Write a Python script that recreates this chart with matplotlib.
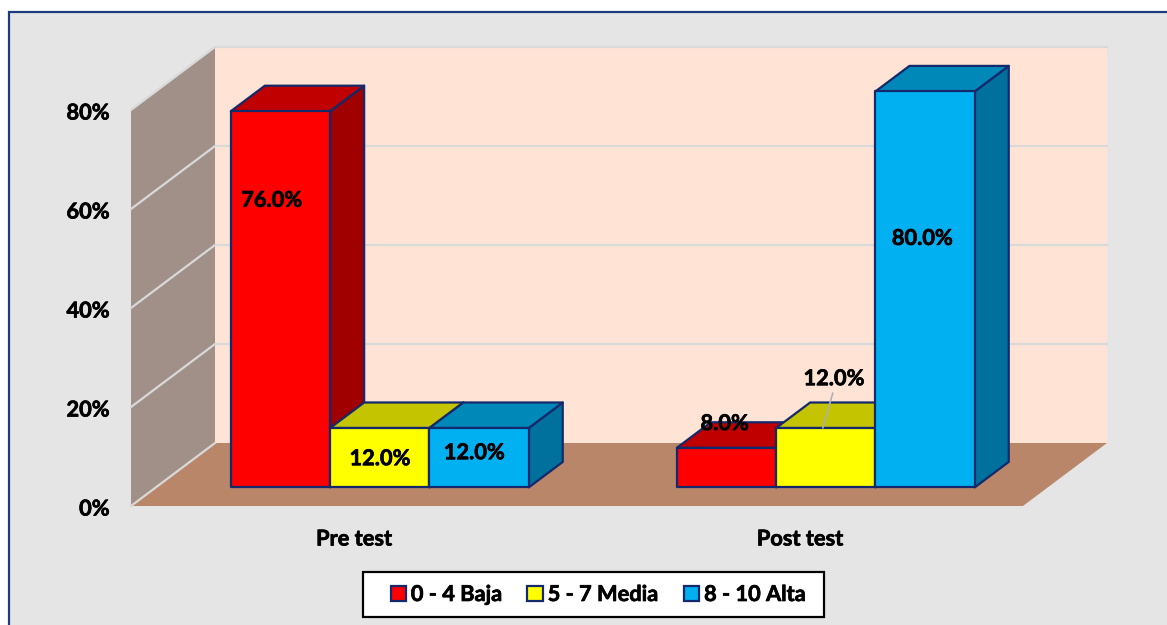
import matplotlib
matplotlib.use("Agg")
import matplotlib.pyplot as plt
import matplotlib.patheffects as pe
from matplotlib.patches import Rectangle, Polygon, Patch
from matplotlib.ticker import PercentFormatter
from matplotlib.transforms import ScaledTranslation

categories = ["Pre test", "Post test"]
series_names = ["0 - 4 Baja", "5 - 7 Media", "8 - 10 Alta"]
baja = [76.0, 8.0]
media = [12.0, 12.0]
alta = [12.0, 80.0]
y_ticks = [0, 20, 40, 60, 80]

W, H = 1167, 625
PX_X = 446.0      # pixels per category
PX_Y = 4.95       # pixels per percent
fs = 15.7
font = "Lato"
plt.rcParams["font.family"] = [font, "DejaVu Sans"]
plt.rcParams["font.weight"] = "bold"
NAVY = "#14296B"
heavy = [pe.withStroke(linewidth=0.5, foreground="black")]

fig = plt.figure(figsize=(W / 100, H / 100), dpi=100, facecolor="white")
fig.add_artist(Rectangle((9 / W, -0.1), 1.1, 1 - 12 / H + 0.1, transform=fig.transFigure,
                         facecolor="#E5E5E5", edgecolor="#1F3A7D", linewidth=1.6, zorder=-5))

ax = fig.add_axes([131 / W, (H - 506) / H, 892 / W, 396 / H])
ax.set_xlim(-0.5, 1.5)
ax.set_ylim(0, 80)
ax.patch.set_visible(False)
for s in ax.spines.values():
    s.set_visible(False)

# depth of the box and of the bars, in data units
wx, wy = 84 / PX_X, 63 / PX_Y
ox, oy = 25.8 / PX_X, 18.6 / PX_Y
bx, by = 34 / PX_X, 25.5 / PX_Y
bw = 99.3 / PX_X

x0, x1 = -0.5, 1.5
ymax = y_ticks[-1]
kw = dict(clip_on=False, zorder=1)
# back wall
ax.add_patch(Polygon([(x0 + wx, wy), (x1 + wx, wy), (x1 + wx, ymax + wy), (x0 + wx, ymax + wy)],
                     facecolor="#FFE4D6", edgecolor="none", **kw))
# side wall
ax.add_patch(Polygon([(x0, 0), (x0 + wx, wy), (x0 + wx, ymax + wy), (x0, ymax)],
                     facecolor="#A09087", edgecolor="none", **kw))
# floor
ax.add_patch(Polygon([(x0, 0), (x1, 0), (x1 + wx, wy), (x0 + wx, wy)],
                     facecolor="#B9866A", edgecolor="none", **kw))
# grid lines (the zero line only shows on the side wall)
for t in y_ticks:
    xs = [x0, x0 + wx] if t == 0 else [x0, x0 + wx, x1 + wx]
    ys = [t, t + wy] if t == 0 else [t, t + wy, t + wy]
    ax.plot(xs, ys, color="#D9D9D9", lw=1.6, clip_on=False, zorder=1.5,
            solid_joinstyle="miter")

faces = [("#FF0000", "#C00000", "#A00000"),
         ("#FFFF00", "#C4C400", "#A3A300"),
         ("#00B0F0", "#0088B8", "#00709C")]
all_values = [baja, media, alta]
handles = []
z = 2.0
for s, vals in enumerate(all_values):
    front, top, side = faces[s]
    left_shift = (s - 1) * bw
    for c, v in enumerate(vals):
        xc = c + ox + left_shift
        xl, xr = xc - bw / 2, xc + bw / 2
        yt = oy + v
        ekw = dict(edgecolor=NAVY, linewidth=1.6, clip_on=False, joinstyle="round")
        ax.add_patch(Polygon([(xr, oy), (xr + bx, oy + by), (xr + bx, yt + by), (xr, yt)],
                             facecolor=side, zorder=z, **ekw))
        ax.add_patch(Polygon([(xl, yt), (xr, yt), (xr + bx, yt + by), (xl + bx, yt + by)],
                             facecolor=top, zorder=z, **ekw))
        ax.bar(xc, v, width=bw, bottom=oy, color=front, zorder=z + 0.1, **ekw)
    z += 1
    handles.append(Patch(facecolor=front, edgecolor=NAVY, linewidth=1.6))

ax.set_xticks(range(len(categories)), categories)
ax.set_yticks(y_ticks)
ax.yaxis.set_major_formatter(PercentFormatter(decimals=0))
ax.tick_params(axis="y", length=0, pad=15.5, labelsize=fs)
ax.tick_params(axis="x", length=0, pad=16.2, labelsize=fs)
shift = ScaledTranslation(0, -1 / 100, fig.dpi_scale_trans)
for lab in ax.get_yticklabels():
    lab.set_transform(lab.get_transform() + shift)
    lab.set_path_effects(heavy)
for lab in ax.get_xticklabels():
    lab.set_path_effects(heavy)

# data labels: pixel nudges from the centre of each bar's front face
nudges = {(0, 0): (-9, 99), (1, 0): (0, -1), (2, 0): (-5, 5),
          (0, 1): (-2, 44), (1, 1): (8, 79), (2, 1): (-3, 51)}
for s, vals in enumerate(all_values):
    for c, v in enumerate(vals):
        xc = c + ox + (s - 1) * bw
        dx, dy = nudges[(s, c)]
        ax.annotate(f"{v:.1f}%", (xc, oy + v / 2), xytext=(dx, dy), textcoords="offset pixels",
                    ha="center", va="center", fontsize=fs, fontweight="bold", color="black",
                    zorder=20, annotation_clip=False, path_effects=heavy)

# leader line for the Post test / Media label
xc = 1 + ox
ax.annotate("", (xc - 3 / PX_X, oy + media[1]), xytext=(10, 35), textcoords="offset pixels",
            arrowprops=dict(arrowstyle="-", color="#B0B0B0", lw=1.2, shrinkA=0, shrinkB=0),
            zorder=19, annotation_clip=False)

# legend box, wider than its entries
fig.add_artist(Rectangle((363 / W, (H - 617) / H), 461 / W, 45 / H, transform=fig.transFigure,
                         facecolor="white", edgecolor="black", linewidth=1.6, zorder=5))
leg = fig.legend(handles, series_names, loc="center", ncol=3,
                 bbox_to_anchor=(598 / W, (H - 594.5) / H),
                 frameon=False, fontsize=fs, handlelength=0.7, handleheight=0.7,
                 handletextpad=0.23, columnspacing=1.19, borderpad=0, borderaxespad=0)
leg.set_zorder(6)
for t in leg.get_texts():
    t.set_path_effects(heavy)

fig.savefig("out.png", dpi=100, facecolor="white")
